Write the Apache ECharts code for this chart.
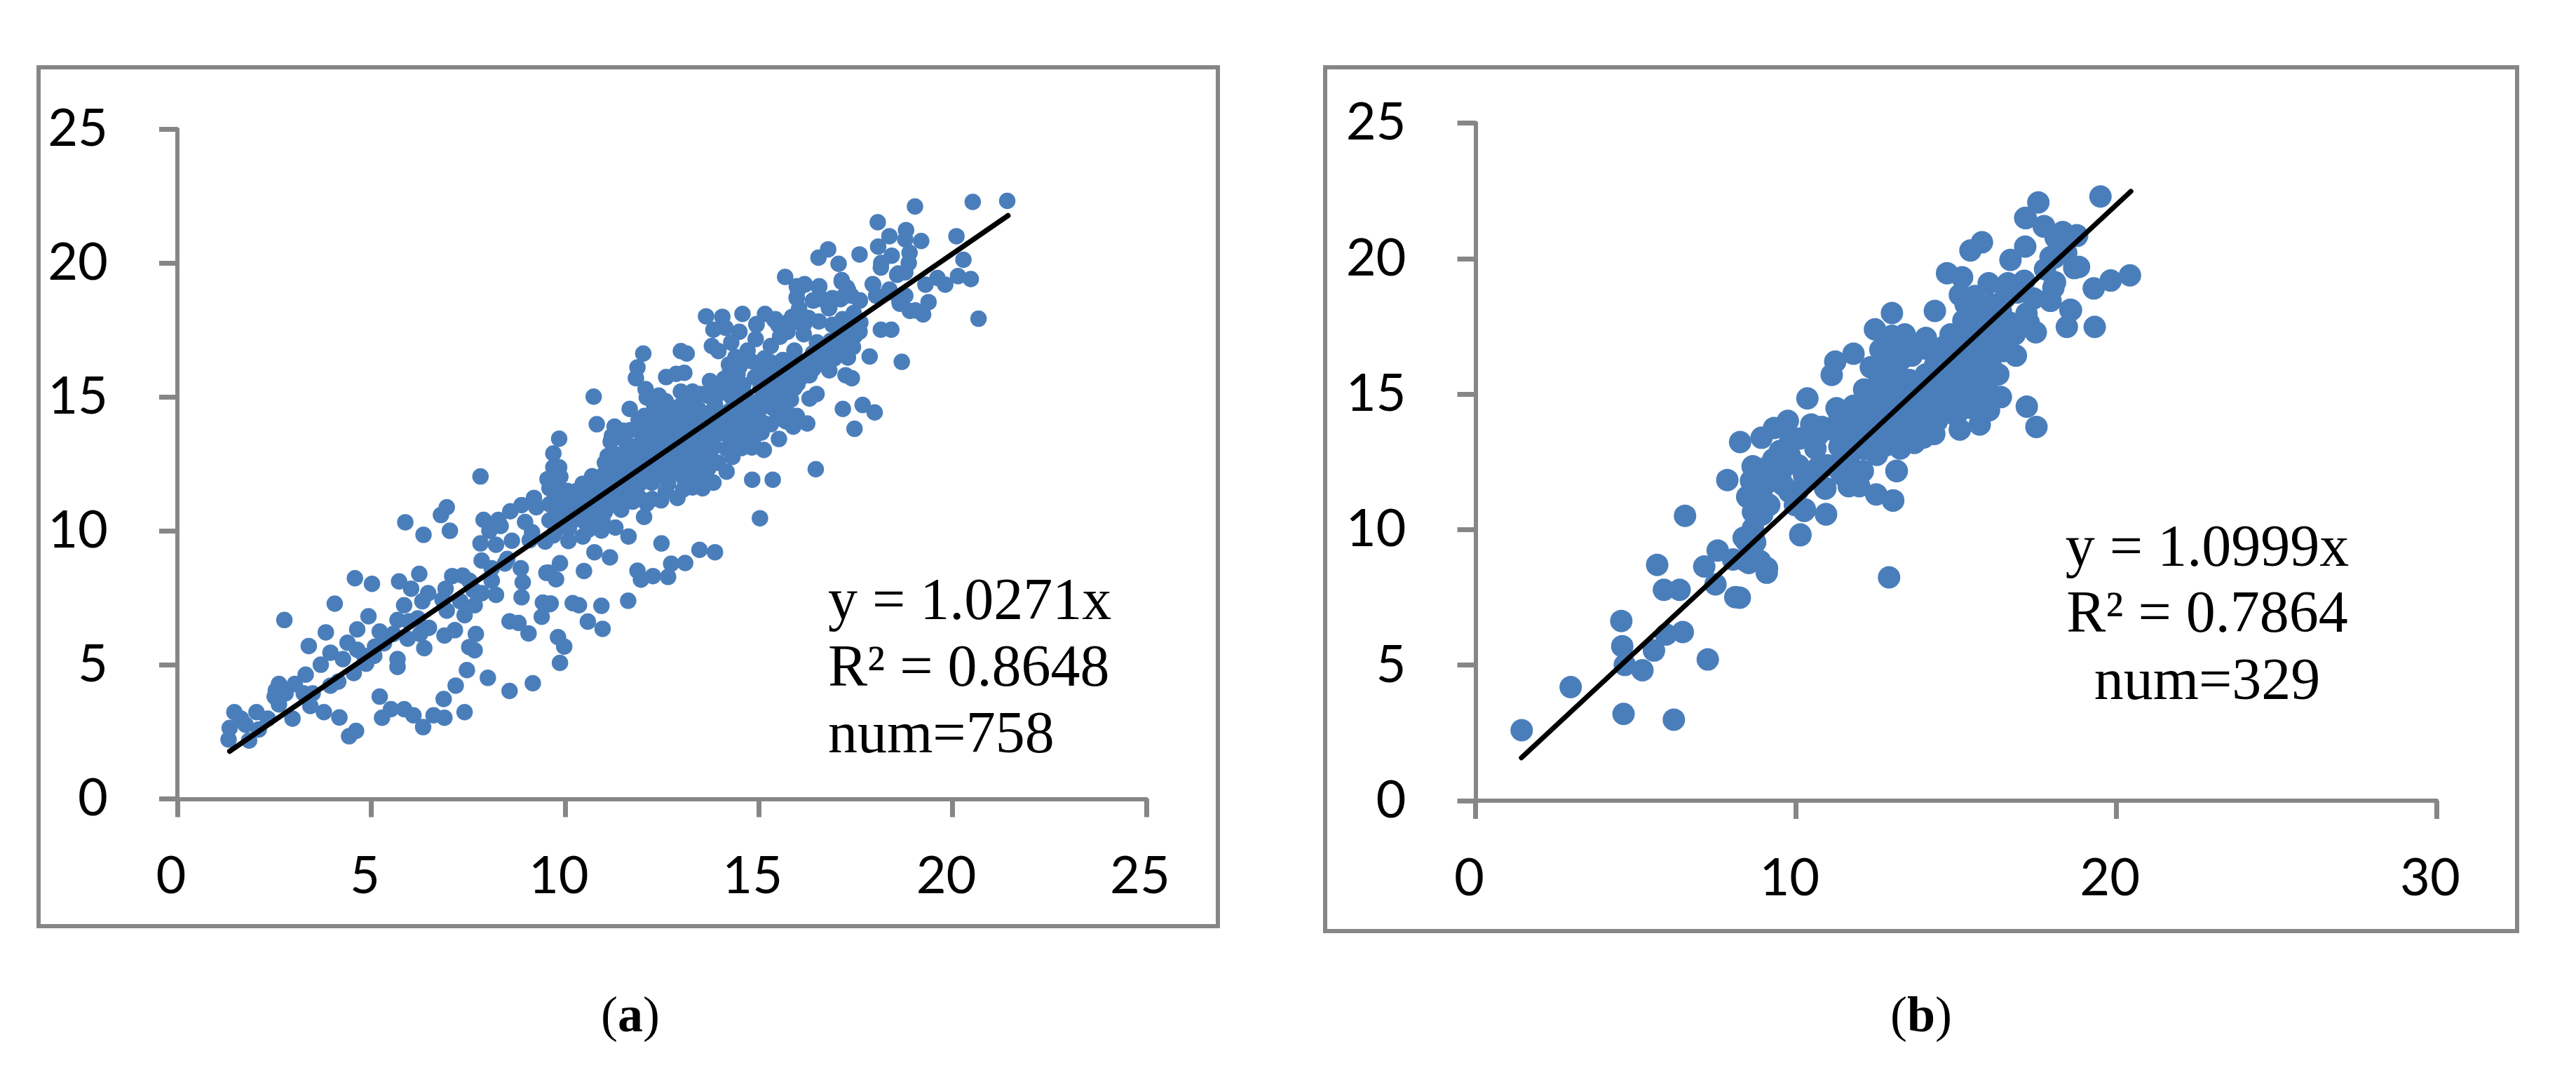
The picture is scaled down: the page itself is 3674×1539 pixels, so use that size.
<!DOCTYPE html>
<html><head><meta charset="utf-8">
<style>html,body{margin:0;padding:0;background:#fff}#c{width:3674px;height:1539px}</style>
<script src="https://cdn.jsdelivr.net/npm/echarts@6/dist/echarts.min.js"></script>
</head><body><div id="c"></div>
<script>
const pointsA = [
[13.64,18.02],[14.06,18.00],[14.58,18.11],[15.16,18.11],[15.40,17.89],[14.94,17.70],[13.83,17.52],[14.14,17.59],[14.50,17.44],[15.86,18.00],[15.68,19.49],[16.19,19.20],[16.55,19.11],[17.14,19.31],[15.98,18.70],[16.01,19.01],[17.30,19.01],[17.61,18.61],[17.11,18.66],[17.95,19.20],[18.36,18.92],[18.03,18.79],[18.60,19.62],[18.63,18.57],[18.90,18.22],[18.15,19.84],
[13.79,16.91],[13.96,16.72],[14.29,17.04],[14.92,17.17],[14.71,16.74],[15.31,16.91],[15.55,17.26],[16.04,18.31],[16.40,18.61],[16.55,17.83],[16.82,18.35],[16.28,17.96],[15.74,17.44],[16.16,17.35],[15.92,16.74],[17.55,17.74],[17.49,17.31],[17.30,16.48],[17.43,16.87],[16.76,16.83],[17.06,16.91],[17.86,16.52],[18.69,16.32],[18.15,17.52],[18.42,17.52],
[13.14,16.63],[12.99,16.72],[12.02,16.63],[11.87,16.11],[11.83,15.71],[12.61,15.75],[12.87,15.87],[13.08,15.91],[12.08,15.30],[12.42,15.06],[12.11,14.99],[12.99,15.21],[13.29,15.21],[13.50,15.12],[13.02,14.73],[13.38,14.64],[13.74,15.60],[14.11,15.69],[14.38,15.52],[14.23,16.22],[14.50,16.13],[14.71,16.48],[14.98,16.22],[15.31,16.30],[15.62,16.39],[16.04,16.13],[16.52,16.22],[16.31,15.82],[16.82,16.00],[17.24,15.82],[17.40,15.71],
[14.65,15.08],[14.95,14.82],[15.25,15.00],[15.55,15.26],[15.92,15.34],[15.83,14.91],[16.31,14.95],[16.49,15.12],[15.46,14.64],[15.80,14.34],[15.98,14.30],[16.25,14.02],[15.89,13.90],[15.31,13.99],[15.49,14.21],[15.07,13.68],[14.83,13.95],[15.52,13.44],[15.13,13.03],[14.82,13.12],[14.35,14.12],[14.35,13.42],[14.17,13.07],[14.32,12.77],[14.17,12.22],[14.83,11.92],[15.36,11.92],[16.47,12.31],[15.03,10.48],[17.17,14.56],[17.68,14.71],[17.99,14.43],[17.47,13.82],
[10.74,15.02],[11.67,14.56],[10.82,13.99],[11.28,13.90],[11.21,13.55],[11.18,13.34],[11.54,13.42],[11.69,13.77],[12.05,14.30],[12.36,14.47],[12.72,14.47],[13.08,14.30],[13.44,14.56],[13.87,14.73],[14.23,14.47],[11.99,13.77],[12.36,13.77],[12.78,13.95],[13.14,13.77],[13.50,13.95],[13.87,13.86],[14.23,13.95],[11.81,13.16],[12.11,13.16],[12.48,13.25],[12.90,13.34],[13.26,13.42],[13.62,13.34],[11.93,12.55],[12.30,12.64],[12.66,12.72],[13.02,12.90],[13.38,12.90],[13.74,12.77],[11.03,12.55],[11.33,12.59],[11.57,12.46],[11.00,12.11],[11.33,12.03],[11.69,12.20],[12.05,12.20],[12.42,12.11],[12.78,12.29],[13.14,12.38],[13.50,12.38],
[10.46,11.77],[10.79,11.81],[11.09,11.77],[11.45,11.68],[11.93,11.77],[12.24,11.81],[12.66,11.77],[13.08,11.94],[13.44,11.85],[13.83,11.81],[13.29,11.63],[12.60,11.50],[12.90,11.24],[12.48,11.15],[12.11,11.02],[11.93,11.24],[11.54,11.20],[11.27,10.98],[11.03,10.72],[10.67,11.15],[10.30,11.50],[10.06,11.50],[9.88,12.03],[9.70,12.38],[9.85,12.38],[9.70,12.90],[9.85,13.45],[9.82,11.50],[9.88,11.07],[10.12,11.07],[10.36,10.98],[10.73,10.72],[9.82,10.72],[9.79,10.37],[10.18,10.37],[10.49,10.37],[10.97,10.37],[11.30,10.13],[10.94,10.02],[10.46,9.80],[10.09,9.63],[9.70,9.84],[11.64,9.80],[12.04,10.53],[12.49,9.54],[10.76,9.21],[11.16,9.02],[9.87,8.80],[10.49,8.51],[13.47,9.30],[13.87,9.21],[13.10,8.81],[12.74,8.78],[11.87,8.52],[11.96,8.19],[12.27,8.32],[12.66,8.29],[9.77,8.20],[9.58,8.45],[11.63,7.40],[10.94,7.21],[10.36,7.23],[10.20,7.31],[9.61,7.27],[10.59,6.62],[10.97,6.35],
[1.32,2.22],[1.35,2.65],[1.47,3.24],[1.64,3.00],[1.76,2.77],[1.85,2.18],[2.04,3.24],[2.10,2.59],[2.33,3.00],[2.54,4.05],[2.62,4.29],[2.51,3.82],[2.79,3.94],[3.03,4.29],[3.31,4.64],[3.26,3.94],[3.49,3.94],[2.62,3.53],[2.97,3.00],[3.43,3.47],[3.78,3.24],[4.18,3.04],[4.43,2.34],[4.61,2.54],[3.95,4.23],[4.15,4.38],[4.55,4.70],[3.70,5.01],[3.95,5.46],[4.27,5.22],[4.39,5.83],[4.64,6.33],[4.93,6.82],[3.83,6.22],[3.39,5.71],[2.76,6.68],[4.06,7.29],[4.58,8.24],[5.02,8.03],[5.22,6.25],[5.08,5.34],[4.87,5.05],[5.68,5.22],[5.68,4.93],[6.37,5.63],[5.94,5.98],[6.26,6.16],[6.49,6.39],[5.68,6.68],[5.85,7.23],[6.03,7.85],[5.72,8.12],[6.24,8.40],[6.47,7.68],[6.32,7.38],[6.92,7.85],[7.09,8.32],[7.36,8.34],[7.30,7.38],[6.95,7.03],[7.41,6.86],[7.67,7.23],[7.85,7.68],[8.22,7.62],[7.85,8.90],[8.11,8.15],[8.45,8.79],[8.86,8.61],[8.91,8.09],[8.88,7.53],[9.52,8.44],
[5.22,3.82],[5.28,3.03],[5.51,3.35],[5.85,3.35],[6.09,3.12],[6.34,2.68],[6.61,3.12],[6.89,3.03],[6.87,3.73],[7.18,4.23],[7.41,3.24],[7.47,4.81],[8.01,4.52],[8.57,4.03],[9.17,4.32],[7.67,5.55],[7.53,5.67],[7.70,6.16],[7.16,6.30],[6.89,6.10],[8.57,6.63],[8.80,6.57],[9.06,6.18],[9.40,6.80],[9.43,7.33],[9.63,7.30],[9.82,6.04],[9.98,5.69],[9.87,5.08],
[7.90,10.42],[8.05,10.01],[8.34,10.19],[7.82,9.54],[8.22,9.49],[8.63,9.64],[9.09,9.66],[9.49,9.61],[8.97,10.34],[9.15,9.96],[9.26,10.89],[9.20,11.24],[8.88,10.97],[8.59,10.74],[8.28,10.42],[9.75,10.60],[9.75,11.18],[9.55,11.94],[9.72,12.35],[7.82,12.04],[6.95,10.89],[6.80,10.60],[5.88,10.33],[6.35,9.86],[7.03,10.01],[9.72,11.65],[9.84,10.25],[8.51,8.96],[8.11,8.61],[7.53,8.15],[7.64,7.79],[6.84,7.44],[5.97,6.63],[6.20,6.74],[5.57,6.16],[5.33,5.81],[5.10,5.69],[4.82,5.34],[4.64,5.57],
[21.41,22.33],[20.52,22.29],[19.03,22.12],[18.07,21.53],[18.80,21.24],[18.37,21.01],[18.78,20.89],[19.19,20.83],[20.10,21.01],[18.08,20.62],[16.79,20.52],[16.54,20.21],[17.60,20.33],[17.06,19.98],[18.89,20.39],[18.43,20.28],[18.16,20.01],[20.28,20.13],[18.87,20.01],[18.78,19.66],[18.57,19.57],[17.14,19.37],[17.27,19.10],[16.18,19.22],[16.56,19.14],[15.98,19.14],[15.98,18.73],[16.41,18.61],[17.16,18.73],[17.60,18.61],[17.39,18.79],[17.94,19.22],[18.03,18.79],[18.37,19.02],[19.61,19.45],[20.14,19.52],[19.30,19.20],[19.81,19.20],[20.47,19.41],[18.78,18.79],[18.64,18.49],[19.38,18.55],[19.04,18.24],[19.24,18.09],[20.67,17.93],[16.81,18.32],[17.45,18.14],[17.16,17.91],[17.62,17.79],[15.89,17.79],[15.43,17.91],[14.94,17.73],
[14.40,16.50],[14.80,16.35],[15.15,16.45],[15.50,16.05],[15.85,16.25],[16.25,16.35],[16.65,16.55],[16.95,16.45],
[14.25,15.90],[14.45,15.85],[14.90,15.75],[15.20,15.85],[15.50,15.70],[15.80,15.85],[16.10,15.75],[16.40,16.05],
[13.95,15.45],[14.25,15.35],[14.60,15.45],[15.05,15.40],[15.35,15.50],[15.70,15.55],[16.00,15.50],
[13.20,14.95],[13.70,15.05],[14.00,15.15],[14.30,15.00],[14.50,14.80],[15.10,15.15],[15.60,14.95],[15.35,14.60],
[12.30,14.70],[12.60,14.85],[12.85,14.60],[13.15,14.60],[13.60,14.40],[14.00,14.40],[14.40,14.70],[14.70,14.55],[15.00,14.50],[15.65,14.60],
[11.90,14.15],[12.25,14.15],[12.55,14.20],[12.85,14.15],[13.25,14.10],[13.65,14.10],[14.05,14.15],[14.55,14.25],[14.80,14.25],[15.70,14.10],
[11.50,13.75],[12.15,13.90],[12.55,13.85],[12.95,13.75],[13.30,13.65],[13.70,13.65],[14.05,13.65],[14.55,13.85],[14.85,13.65],[15.10,14.05],
[12.00,13.50],[12.25,13.45],[12.60,13.55],[12.95,13.60],[13.35,13.20],[13.75,13.55],[14.55,13.50],[14.85,13.40],
[11.60,13.15],[12.30,13.00],[12.70,13.05],[13.05,13.15],[13.45,13.15],[13.85,13.15],[14.55,13.10],
[11.10,12.80],[11.35,12.85],[11.60,12.80],[11.80,12.75],[12.10,12.85],[12.45,12.90],[12.85,12.65],[13.20,12.65],[13.55,12.60],[13.95,12.55],
[12.00,12.40],[12.60,12.45],[12.95,12.50],[13.30,12.15],[13.70,12.35],
[10.70,12.05],[11.15,12.30],[11.55,12.00],[11.90,12.00],[12.25,12.05],[12.60,12.05],[12.95,12.15],[13.65,12.05],
[10.60,11.50],[10.95,11.45],[11.20,11.45],[11.75,11.50],[13.05,11.55],[13.55,11.60],
[10.00,11.25],[10.45,11.25],[10.85,11.20],[11.25,11.25],[11.75,11.10],[12.25,11.20],
[10.00,10.75],[10.55,10.75],[10.90,10.95],[11.45,10.80],[10.35,10.55],[10.75,10.40],[10.10,10.10],[10.60,10.05],
[16.50,17.05],[16.85,17.10],[17.15,17.20],[16.40,16.65],[16.70,16.45],[17.00,16.55],[15.50,17.70],[15.75,17.80],[16.16,17.70],[16.90,17.70],[17.20,17.55],[17.60,17.45],[16.65,18.65],[16.90,18.70],
[9.60,11.00],[9.60,10.40],[9.60,11.60],[9.75,10.00]
];
const pointsB = [
[17.16,21.50],[17.75,21.20],[18.33,20.98],[18.77,20.86],[18.11,20.77],[15.81,20.60],[15.45,20.30],[17.16,20.44],[16.70,19.95],[18.44,20.21],[18.08,20.04],[18.84,19.69],[17.78,19.61],[14.72,19.46],[15.19,19.31],[16.02,19.09],[16.62,19.09],[17.13,19.18],[19.30,18.90],[18.04,18.92],[17.93,18.49],[17.42,18.53],[15.12,18.66],[15.59,18.62],[16.10,18.31],[16.54,18.57],[16.91,18.75],[18.59,18.10],[18.46,17.48],[19.33,17.48],[14.34,18.07],[13.00,17.99],[12.47,17.39],[13.00,17.15],[13.40,17.20],[14.06,17.07],[15.30,18.31],[15.89,17.97],[16.40,18.06],[17.20,17.97],[17.49,17.28],[15.23,17.71],[15.67,17.71],[16.18,17.63],[16.69,17.63],[17.27,17.63],[14.83,17.20],[15.30,17.20],[15.81,17.11],[16.32,17.20],[16.83,17.20],
[12.64,16.64],[13.04,16.68],[13.55,16.76],[14.06,16.68],[14.64,16.76],[15.08,16.68],[15.52,16.68],[16.03,16.59],[16.47,16.59],[16.87,16.42],[11.80,16.49],[11.23,16.20],[11.12,15.71],[12.34,15.99],[12.78,16.16],[13.26,16.25],[13.62,16.42],[14.35,16.08],[15.67,16.08],[16.10,15.99],[16.32,15.73],[15.16,16.16],[12.75,15.64],[13.18,15.73],[13.55,15.52],[14.06,15.73],[14.64,15.56],[15.16,15.56],[15.59,15.56],[15.96,15.26],[16.40,14.89],[15.89,14.87],[12.13,15.17],[12.53,15.13],[12.97,15.04],[13.40,15.13],[13.84,14.96],[14.35,15.04],[14.79,15.04],[15.30,15.04],[15.67,14.70],[16.03,14.40],[15.74,13.88],[15.12,13.69],[17.21,14.54],[17.51,13.79],
[10.36,14.84],[11.27,14.48],[11.80,14.57],[12.24,14.61],[12.67,14.61],[13.11,14.53],[13.55,14.53],[13.99,14.44],[14.50,14.35],[14.94,14.61],[9.75,14.01],[9.32,13.75],[8.93,13.39],[8.26,13.23],[10.48,13.88],[10.81,13.79],[11.36,14.14],[11.80,14.09],[12.24,14.09],[12.67,14.01],[13.11,14.01],[13.55,14.01],[14.06,14.09],[14.32,13.53],[13.99,13.40],[13.33,13.49],[12.89,13.58],[12.31,13.58],[11.80,13.58],[11.36,13.49],[9.83,13.32],[10.12,13.36],[10.61,12.99],[9.81,12.73],[11.36,13.06],[11.72,13.15],[12.53,12.76],[12.16,12.97],[13.26,12.99],[13.15,12.16],[8.66,12.33],[10.08,12.37],[9.53,12.11],[10.26,11.98],[10.99,12.37],[11.65,12.63],[12.09,12.16],[11.43,12.03],[11.65,11.60],[11.98,11.60],[10.92,11.51],[12.51,11.30],[13.04,11.08],[8.62,11.77],[8.95,11.51],[9.61,11.64],[10.05,11.42],[8.48,11.21],[9.17,10.91],[8.66,10.65],[8.95,10.56],[10.26,10.69],[10.94,10.56],[9.97,10.91],[10.14,9.79],[8.66,10.05],[8.73,9.53],[8.37,9.70],[8.88,8.84],[9.10,8.58],[8.44,8.84],[12.91,8.24],
[1.44,2.60],[2.97,4.19],[4.62,3.20],[6.19,2.99],[4.55,6.63],[4.58,5.70],[4.66,5.01],[5.21,4.81],[5.57,5.54],[5.95,6.13],[6.47,6.22],[7.25,5.21],[5.67,8.70],[5.88,7.78],[6.37,7.78],[6.54,10.51],[7.14,8.64],[7.49,7.98],[7.56,9.23],[8.11,7.51],[8.25,7.49],[8.04,8.90],[8.53,8.77],[8.88,8.83],[9.09,8.41],[8.46,9.56],[8.67,9.76],[8.81,10.48],[8.67,11.01],[8.51,11.21],[9.12,10.94],[8.60,11.80],[8.95,11.54],[8.65,12.33],[7.86,11.83],[10.14,9.82],[10.94,10.57],[10.28,10.75],[9.79,11.40],[9.37,11.80],[10.49,11.93],[13.03,11.07],[13.14,12.17],[10.91,11.54],
[19.51,22.29],[17.57,22.07],[17.18,21.49],[17.74,21.18],[18.34,20.95],[18.78,20.84],[20.43,19.38],[19.83,19.19],[18.69,19.65],[18.57,18.11],[17.95,18.44],[18.09,19.13],[17.95,20.05],
[12.60,15.50],[13.00,15.50],[13.80,15.40],[14.30,15.40],[14.90,15.90],[15.40,15.90],[14.60,16.30],[15.80,16.30],[14.00,15.10],[14.50,14.70],[15.40,14.50],[15.00,14.20],[14.40,14.00],[13.85,14.90],[13.30,14.30],[12.40,14.30],[12.00,14.30],[11.60,13.90],[12.00,13.80],[12.50,13.80],[13.00,13.80],[13.70,13.70],[11.10,13.70],[10.50,13.40],[10.70,13.50],[11.40,12.50],[9.30,12.60],[9.10,12.30],[8.90,12.00],[9.50,12.90],[10.70,12.30],[12.30,13.20],[12.80,13.10],[13.70,13.20],[14.00,13.70]
];
const fitLineA = [[1.35,1.78],[21.43,21.78]];
const fitLineB = [[1.43,1.58],[20.46,22.48]];
const notesA = ['y = 1.0271x','R² = 0.8648','num=758'];
const notesB = ['y = 1.0999x','R² = 0.7864','num=329'];

const GRAY='#868686', BLUE='#4a7ebb', SERIF='"Liberation Serif",serif';
const axisBase = (margin,extra)=>({
  type:'value',min:0,splitLine:{show:false},
  axisLine:{show:true,onZero:false,lineStyle:{color:GRAY,width:6}},
  axisTick:{show:true,length:26,lineStyle:{color:GRAY,width:7}},
  axisLabel:Object.assign({show:true,margin,color:'#000',fontFamily:'Lato',fontSize:74,showMinLabel:true,showMaxLabel:true,hideOverlap:false},extra||{})
});
const xLabel = axisBase(74,{padding:[0,18,0,0]});
const note=(text,x,y,align)=>({type:'text',x,y,silent:true,style:{text,fill:'#000',font:'84px '+SERIF,align,verticalAlign:'middle'}});
const frame=(x,y,w,h)=>({type:'rect',silent:true,z:-1,shape:{x,y,width:w,height:h},style:{fill:'#fff',stroke:GRAY,lineWidth:6}});
const caption=(letter,x)=>({type:'text',x,y:1452,silent:true,style:{text:'{n|(}{b|'+letter+'}{n|)}',align:'center',verticalAlign:'middle',rich:{n:{font:'72px '+SERIF,fill:'#000'},b:{font:'bold 72px '+SERIF,fill:'#000'}}}});

const chart=echarts.init(document.getElementById('c'),null,{width:3674,height:1539});
chart.setOption({
  animation:false,backgroundColor:'#fff',
  grid:[
    {left:253,top:184.5,width:1382,height:955},
    {left:2104.5,top:175.5,width:1370.5,height:966.5}
  ],
  xAxis:[
    Object.assign({},xLabel,{gridIndex:0,max:25,interval:5}),
    Object.assign({},xLabel,{gridIndex:1,max:30,interval:10})
  ],
  yAxis:[
    Object.assign(axisBase(99),{gridIndex:0,max:25,interval:5}),
    Object.assign(axisBase(99),{gridIndex:1,max:25,interval:5})
  ],
  series:[
    {type:'scatter',xAxisIndex:0,yAxisIndex:0,data:pointsA,symbol:'circle',symbolSize:23.5,itemStyle:{color:BLUE,opacity:1},z:2},
    {type:'line',xAxisIndex:0,yAxisIndex:0,data:fitLineA,showSymbol:false,symbol:'none',lineStyle:{color:'#000',width:7.5,cap:'round'},z:3},
    {type:'scatter',xAxisIndex:1,yAxisIndex:1,data:pointsB,symbol:'circle',symbolSize:32,itemStyle:{color:BLUE,opacity:1},z:2},
    {type:'line',xAxisIndex:1,yAxisIndex:1,data:fitLineB,showSymbol:false,symbol:'none',lineStyle:{color:'#000',width:7,cap:'round'},z:3}
  ],
  graphic:[
    frame(55,96,1682,1225),
    frame(1890,96,1700,1232),
    note(notesA[0],1181,861,'left'),note(notesA[1],1181,956,'left'),note(notesA[2],1181,1051,'left'),
    note(notesB[0],3148,785,'center'),note(notesB[1],3148,879,'center'),note(notesB[2],3148,975,'center'),
    caption('a',899),caption('b',2740)
  ]
});
</script></body></html>
